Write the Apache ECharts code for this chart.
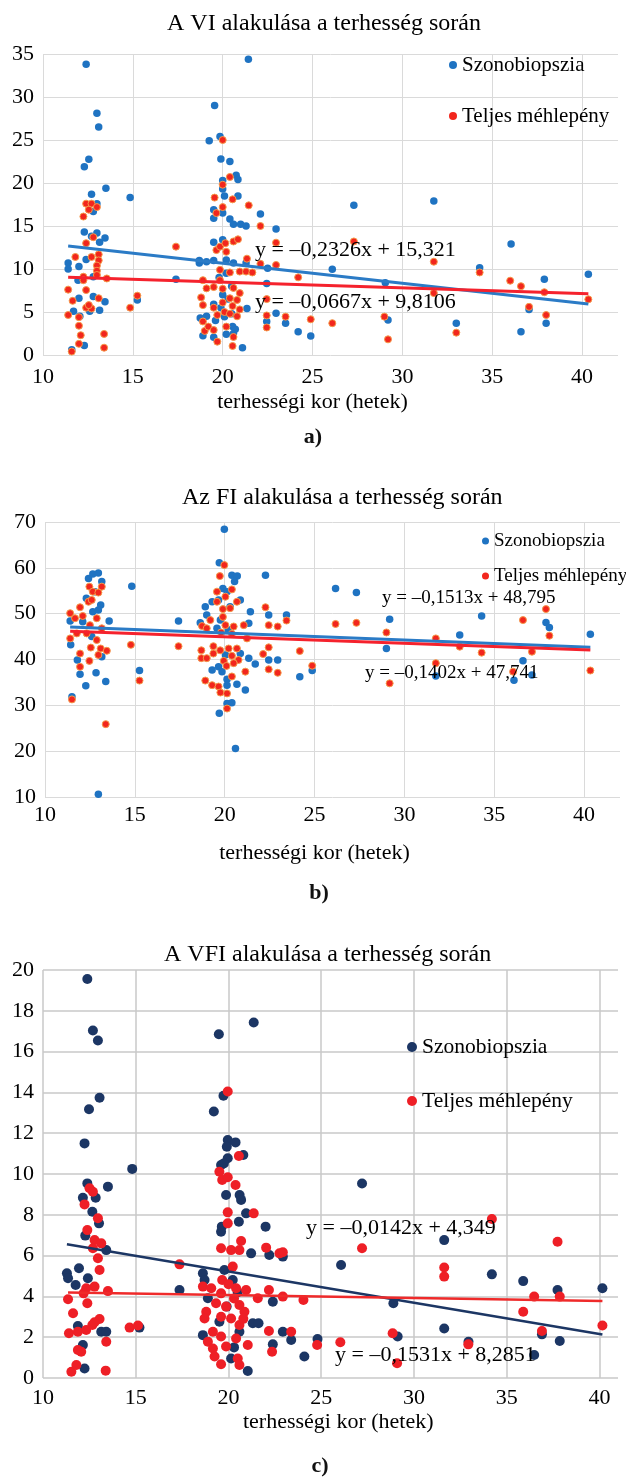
<!DOCTYPE html>
<html>
<head>
<meta charset="utf-8">
<script src="https://cdn.jsdelivr.net/npm/echarts@6/dist/echarts.min.js"></script>
<style>html,body{margin:0;padding:0;background:#fff}#c{width:626px;height:1477px}</style>
</head>
<body>
<div id="c"></div>
<script>
// ---------- DATA ----------
const seriesNames = ['Szonobiopszia', 'Teljes méhlepény'];
const titles = ['A VI alakulása a terhesség során', 'Az FI alakulása a terhesség során', 'A VFI alakulása a terhesség során'];
const xName = 'terhességi kor (hetek)';
const panelLabels = ['a)', 'b)', 'c)'];

// panel a) VI
const aBlue = [[11.4,10.7],[11.4,10.0],[11.6,0.6],[11.7,5.1],[11.95,8.7],[12.0,10.3],[12.0,6.6],[12.05,4.5],[12.3,21.9],[12.3,14.3],[12.3,1.1],[12.4,11.1],[12.4,33.8],[12.55,22.75],[12.6,5.1],[12.7,18.7],[12.7,13.8],[12.8,16.7],[12.8,9.1],[12.8,6.8],[13.0,28.1],[13.0,17.6],[13.0,14.2],[13.1,26.5],[13.15,13.1],[13.15,5.2],[13.45,13.6],[13.45,6.2],[13.5,19.4],
  [14.85,18.3],[15.25,6.4],[17.4,8.8],
  [18.7,11.0],[18.7,10.7],[18.75,4.3],[18.9,2.25],[19.1,10.85],[19.1,4.5],[19.25,24.9],[19.5,16.9],[19.5,15.9],[19.5,13.1],[19.5,11.0],[19.5,5.9],[19.5,2.05],[19.55,29.0],[19.6,4.0],[19.85,25.4],[19.9,22.8],[20.0,20.3],[20.0,19.3],[20.0,16.5],[20.0,13.4],[20.1,18.5],[20.1,4.45],[20.2,11.05],[20.2,9.5],[20.2,2.4],[20.4,22.5],[20.4,15.8],[20.5,8.0],[20.55,3.3],[20.6,15.2],[20.6,10.7],[20.6,2.5],[20.75,20.9],[20.85,20.4],[20.85,18.5],[21.0,15.2],[21.1,0.85],[21.3,15.0],[21.3,10.7],[21.35,5.4],[21.43,34.4],[20.3,6.5],[20.0,7.0],[19.8,9.0],[20.5,4.8],[20.7,3.0],[19.9,5.5],
  [22.1,16.4],[22.45,8.3],[22.45,3.9],[22.5,10.1],[22.97,14.65],[22.97,4.85],[23.5,3.7],[24.2,2.7],[24.9,2.2],[26.1,9.96],[27.3,17.4],[29.05,8.4],[29.2,4.07],[31.75,17.9],[33.0,3.7],[34.3,10.15],[36.05,12.9],[36.6,2.7],[37.05,5.3],[37.9,8.8],[38.0,3.7],[40.35,9.4]];
const aRed = [[11.6,0.4],[11.4,7.6],[11.4,4.65],[11.65,6.3],[11.8,11.4],[12.0,4.4],[12.0,3.4],[12.1,2.3],[12.0,1.3],[12.25,16.1],[12.4,17.6],[12.7,17.6],[12.55,16.9],[13.0,17.2],[12.4,13.0],[12.8,13.7],[13.1,11.7],[13.1,11.0],[13.0,10.4],[13.0,9.8],[13.0,9.3],[12.7,11.4],[12.25,9.1],[12.25,8.7],[13.55,8.9],[12.4,7.55],[13.1,6.6],[12.4,5.5],[12.7,5.4],[12.55,5.8],[13.4,2.45],[13.4,0.85],
  [14.85,5.5],[15.25,6.9],[17.4,12.6],
  [18.9,8.7],[18.8,6.7],[18.9,5.8],[18.9,3.9],[19.0,2.8],[19.2,3.3],[19.5,2.9],[19.7,1.55],[19.55,18.3],[20.0,25.0],[20.0,19.8],[20.4,20.7],[20.55,18.1],[21.45,17.4],[20.0,17.2],[19.65,16.5],[22.1,15.0],[19.65,12.2],[19.85,12.6],[20.15,13.0],[20.6,13.2],[20.85,13.45],[20.2,12.0],[21.35,11.2],[20.95,9.7],[21.3,9.7],[21.65,9.6],[20.4,9.6],[19.85,9.9],[19.85,8.7],[19.5,7.9],[19.1,7.75],[20.0,7.7],[20.6,7.8],[20.4,6.6],[20.8,6.4],[20.95,7.2],[19.5,5.5],[20.0,6.1],[20.55,5.7],[20.95,5.3],[19.7,4.65],[20.1,5.0],[20.4,4.8],[20.8,4.5],[20.2,3.3],[20.6,2.1],[20.55,1.05],
  [22.1,10.6],[22.97,13.06],[22.45,6.5],[22.45,4.6],[22.45,3.2],[22.97,10.47],[24.2,9.03],[23.5,4.46],[24.9,4.15],[26.1,3.7],[27.3,13.2],[29.0,4.46],[29.2,1.82],[31.75,10.85],[31.75,7.2],[33.0,2.6],[34.3,9.6],[36.0,8.64],[36.6,8.0],[37.05,5.6],[37.9,7.3],[38.0,4.65],[40.35,6.47]];
const aTrendBlue = [-0.2326, 15.321];
const aTrendRed = [-0.0667, 9.8106];
const aEq = ['y = –0,2326x + 15,321', 'y = –0,0667x + 9,8106'];

// panel b) FI
const bBlue = [[19.98,68.4],[19.7,61.1],[20.4,58.4],[20.7,58.2],[20.55,57.0],[22.27,58.4],[12.42,57.7],[12.66,58.65],[12.97,58.9],[13.16,57.0],[12.78,54.8],[12.3,53.35],[13.1,51.9],[12.66,50.4],[12.97,50.8],[11.4,48.4],[13.57,48.4],[12.1,48.25],[14.83,56.0],[17.43,48.4],[11.43,43.2],[12.6,45.0],[13.16,40.6],[11.8,39.9],[11.95,36.8],[12.84,37.1],[12.27,34.3],[13.38,35.2],[11.5,31.9],[12.97,10.6],[15.26,37.6],
  [18.92,51.5],[19.0,49.7],[18.64,48.0],[19.3,52.6],[19.66,53.0],[19.9,55.5],[20.13,54.8],[20.3,51.5],[19.76,48.6],[20.87,53.0],[21.43,50.4],[21.34,47.9],[19.57,46.8],[20.2,46.5],[20.04,41.0],[20.87,41.3],[21.34,40.3],[21.7,39.0],[19.3,37.7],[19.66,38.4],[19.85,37.35],[20.13,35.7],[20.13,34.4],[20.68,34.6],[21.15,33.35],[20.13,30.4],[20.4,30.55],[19.7,28.25],[20.6,20.6],[22.45,49.7],[22.45,39.9],[22.95,39.9],
  [23.44,49.7],[24.18,36.25],[24.87,37.6],[26.17,55.5],[27.33,54.6],[29.18,48.8],[29.0,42.4],[31.75,36.4],[33.08,45.35],[34.3,49.5],[36.6,39.75],[36.1,35.5],[37.1,36.6],[37.88,48.1],[38.07,47.0],[40.35,45.5]];
const bRed = [[19.98,60.6],[19.73,58.2],[12.47,55.9],[13.16,55.9],[12.66,54.8],[12.97,54.6],[12.42,52.6],[12.6,53.0],[11.95,51.4],[11.67,49.0],[11.4,50.1],[12.1,49.5],[12.88,49.0],[12.5,47.5],[13.16,46.8],[11.77,45.7],[12.32,45.7],[11.4,44.6],[12.88,44.25],[12.55,42.6],[13.1,42.4],[13.44,41.9],[11.95,41.3],[12.97,41.0],[12.47,39.7],[11.95,38.4],[11.5,31.3],[13.38,25.9],[14.78,43.2],[15.26,35.4],[17.43,42.9],
  [19.57,54.8],[20.04,53.7],[20.4,55.3],[19.57,52.6],[19.9,51.0],[20.3,51.2],[20.68,52.6],[19.9,49.3],[19.2,48.6],[18.74,47.3],[20.04,47.5],[20.5,47.2],[21.06,47.5],[19.0,46.8],[19.8,45.9],[20.4,45.6],[21.24,44.6],[22.27,51.4],[22.45,47.5],[22.95,47.2],[22.45,42.65],[22.14,41.2],[22.45,37.85],[18.7,42.0],[18.7,40.3],[19.0,40.3],[19.37,42.9],[19.75,42.0],[19.37,41.3],[20.22,42.4],[20.68,42.4],[20.4,40.8],[19.95,39.7],[20.77,39.9],[20.5,39.2],[21.15,37.35],[20.1,38.6],[18.92,35.4],[19.3,34.4],[19.66,34.1],[19.76,32.8],[20.13,32.6],[20.4,36.3],[20.13,29.3],
  [23.44,48.5],[22.95,37.1],[24.18,41.85],[24.87,38.65],[26.17,47.75],[27.33,48.0],[29.0,45.9],[29.18,34.8],[31.75,44.6],[31.75,39.2],[33.08,42.8],[34.3,41.5],[36.6,48.6],[36.05,37.35],[37.1,41.7],[37.88,51.0],[38.07,45.2],[40.35,37.6]];
const bTrendBlue = [-0.1513, 48.795];
const bTrendRed = [-0.1402, 47.741];
const bEq = ['y = –0,1513x + 48,795', 'y = –0,1402x + 47,741'];

// panel c) VFI
const cBlue = [[12.39,19.56],[12.69,17.03],[12.96,16.54],[13.05,13.74],[12.48,13.17],[12.24,11.5],[14.81,10.25],[19.48,16.85],[21.36,17.43],[19.73,13.84],[19.21,13.06],[19.96,11.67],[20.38,11.55],[20.8,10.93],[19.96,10.77],[19.6,10.44],
  [12.39,9.54],[13.5,9.38],[12.84,8.84],[12.15,8.84],[12.66,8.15],[13.02,7.58],[12.28,6.98],[13.41,6.27],[11.29,5.13],[11.94,5.38],[11.35,4.89],[12.42,4.89],[11.76,4.56],[11.88,2.55],[12.15,1.62],[12.24,0.47],[13.14,2.27],[13.41,2.27],[15.2,2.47],[17.36,4.31],
  [19.91,11.34],[19.75,10.52],[19.87,8.97],[20.6,8.97],[20.68,8.73],[20.95,8.07],[20.56,7.66],[19.64,7.42],[19.6,7.17],[22.0,7.42],[21.22,6.11],[22.2,6.03],[18.62,5.13],[19.78,5.29],[20.23,4.8],[18.71,4.8],[18.89,3.91],[19.51,2.76],[18.62,2.1],[21.31,2.68],[21.62,2.68],[20.59,2.27],[22.39,3.74],[22.39,1.65],[20.14,0.96],[21.04,0.34],[20.3,1.5],[19.9,3.5],[20.5,4.2],
  [22.93,5.95],[22.93,2.27],[23.38,1.86],[24.09,1.05],[24.8,1.91],[26.07,5.54],[27.2,9.53],[28.89,3.66],[29.12,2.03],[31.63,6.76],[31.63,2.43],[32.94,1.78],[34.2,5.08],[35.89,4.75],[36.48,1.13],[36.9,2.14],[37.74,4.31],[37.86,1.81],[40.16,4.4]];
const cRed = [[19.96,14.04],[20.56,10.88],[19.51,10.11],[19.66,9.71],[19.96,9.84],[20.38,9.46],[21.36,8.07],[19.96,8.12],[19.96,7.58],
  [12.51,9.3],[12.69,9.13],[12.24,8.51],[12.96,7.83],[12.39,7.25],[12.78,6.76],[13.14,6.6],[12.69,6.36],[12.96,5.87],[13.05,5.29],[12.78,4.48],[12.33,4.4],[12.19,4.15],[13.5,4.26],[11.35,3.86],[11.62,3.17],[12.39,3.66],[11.4,2.19],[11.88,2.27],[12.33,2.35],[12.66,2.6],[13.05,2.89],[12.78,2.73],[13.41,1.78],[11.88,1.37],[12.06,1.29],[11.53,0.31],[11.8,0.64],[13.38,0.36],[14.67,2.47],[15.12,2.57],[17.36,5.57],
  [19.6,6.36],[20.14,6.27],[20.68,6.72],[20.59,6.27],[20.23,5.46],[19.66,4.8],[18.62,4.48],[19.07,4.4],[19.6,4.15],[20.41,4.4],[20.95,4.31],[21.58,3.91],[22.18,4.31],[18.8,3.25],[19.33,3.66],[19.87,3.5],[20.59,3.58],[20.86,3.25],[18.71,2.92],[19.6,3.0],[20.14,2.92],[20.59,2.6],[19.16,2.27],[18.89,1.78],[19.6,2.03],[20.41,1.94],[21.04,1.62],[19.16,1.45],[19.87,1.54],[19.25,1.05],[19.6,0.67],[20.5,0.96],[20.59,0.64],[22.18,2.3],[22.35,1.29],[22.75,6.11],[22.03,6.39],[20.3,3.9],[20.0,4.6],[20.8,2.9],
  [22.93,6.16],[22.93,3.99],[23.38,2.27],[24.04,3.82],[24.78,1.62],[26.03,1.75],[27.2,6.36],[28.85,2.19],[29.09,0.72],[31.63,5.42],[31.63,4.97],[32.93,1.65],[34.2,7.79],[35.89,3.25],[36.48,3.99],[36.9,2.3],[37.74,6.68],[37.86,3.99],[40.16,2.57]];
const cTrendBlue = [-0.1531, 8.2851];
const cTrendRed = [-0.0142, 4.349];
const cEq = ['y = –0,0142x + 4,349', 'y = –0,1531x + 8,2851'];

// axis ranges
const xRange = [[10, 42], [10, 42], [10, 41]];
const yRange = [[0, 35, 5], [10, 70, 10], [0, 20, 2]];

// ---------- BUILD ----------
const FONT = 'Liberation Serif';
function trend(data, coef) {
  const xs = data.map(d => d[0]);
  const lo = Math.min.apply(null, xs), hi = Math.max.apply(null, xs);
  return [[lo, coef[0] * lo + coef[1]], [hi, coef[0] * hi + coef[1]]];
}

const panels = [
  { grid: { left: 43, top: 54, width: 575, height: 301 }, blue: aBlue, red: aRed, tb: aTrendBlue, tr: aTrendRed,
    cBlue: '#1f73c2', cRed: '#f2261d', redBorder: '#f59a4a', lBlue: '#2b7bc6', lRed: '#f5222d', size: 7.5, lw: 3,
    grid2col: '#dadada', gw: 1, labMargin: 11, nameGap: 36, namePad: 0,
    legend: { left: 449, top: 54, iw: 8, fs: 21, lh: 22, gap: 29 } },
  { grid: { left: 45, top: 522, width: 575, height: 275 }, blue: bBlue, red: bRed, tb: bTrendBlue, tr: bTrendRed,
    cBlue: '#1f73c2', cRed: '#f2261d', redBorder: '#f59a4a', lBlue: '#2b7bc6', lRed: '#f5222d', size: 7.5, lw: 3,
    grid2col: '#dadada', gw: 1, labMargin: 7, nameGap: 45, namePad: 0,
    legend: { left: 482, top: 531, iw: 7, fs: 19, lh: 20, gap: 15 } },
  { grid: { left: 43, top: 970, width: 575, height: 408 }, blue: cBlue, red: cRed, tb: cTrendBlue, tr: cTrendRed,
    cBlue: '#1c3664', cRed: '#ee1f26', redBorder: null, lBlue: '#1c3664', lRed: '#ef2a2a', size: 10, lw: 2.5,
    grid2col: '#c9c9c9', gw: 1.5, labMargin: 9, nameGap: 33, namePad: 34,
    legend: { left: 407, top: 1036, iw: 10, fs: 21.5, lh: 22, gap: 32 } }
];

const grids = [], xAxes = [], yAxes = [], series = [], legends = [], titleOpts = [];
const titleLeft = [167, 182, 164], titleTop = [12, 486, 943];

panels.forEach((p, i) => {
  const g = p.grid;
  const span = xRange[i][1] - xRange[i][0];
  const vWidth = g.width * 30 / span;
  grids.push({ left: g.left, top: g.top, width: g.width, height: g.height });
  grids.push({ left: g.left, top: g.top, width: vWidth, height: g.height });
  const gm = i * 2, gv = i * 2 + 1;
  xAxes.push({ gridIndex: gm, type: 'value', min: xRange[i][0], max: xRange[i][1],
    axisLine: { show: false }, axisTick: { show: false }, axisLabel: { show: false }, splitLine: { show: false } });
  xAxes.push({ gridIndex: gv, type: 'value', min: 10, max: 40, interval: 5,
    axisLine: { show: false }, axisTick: { show: false },
    axisLabel: { margin: p.labMargin, fontFamily: FONT, fontSize: 22, color: '#000' },
    splitLine: { show: true, lineStyle: { color: p.grid2col, width: p.gw } },
    name: xName, nameLocation: 'middle', nameGap: p.nameGap,
    nameTextStyle: { fontFamily: FONT, fontSize: 22, color: '#000', padding: [0, 0, 0, p.namePad] } });
  yAxes.push({ gridIndex: gm, type: 'value', min: yRange[i][0], max: yRange[i][1], interval: yRange[i][2],
    axisLine: { show: false }, axisTick: { show: false },
    axisLabel: { margin: 9, fontFamily: FONT, fontSize: 22, color: '#000' },
    splitLine: { show: true, lineStyle: { color: p.grid2col, width: p.gw } } });
  yAxes.push({ gridIndex: gv, type: 'value', show: false, min: 0, max: 1, splitLine: { show: false } });

  const xi = gm, yi = gm;
  series.push({ name: seriesNames[0], type: 'scatter', xAxisIndex: xi, yAxisIndex: yi, data: p.blue,
    symbolSize: p.size, itemStyle: { color: p.cBlue, opacity: 1 }, z: 2 });
  series.push({ name: seriesNames[1], type: 'scatter', xAxisIndex: xi, yAxisIndex: yi, data: p.red,
    symbolSize: p.redBorder ? p.size - 0.5 : p.size,
    itemStyle: p.redBorder ? { color: p.cRed, borderColor: p.redBorder, borderWidth: 1, opacity: 1 } : { color: p.cRed, opacity: 1 }, z: 3 });
  series.push({ name: 'trend-blue-' + i, type: 'line', xAxisIndex: xi, yAxisIndex: yi, data: trend(p.blue, p.tb),
    showSymbol: false, symbol: 'none', lineStyle: { color: p.lBlue, width: p.lw }, z: 5, silent: true });
  series.push({ name: 'trend-red-' + i, type: 'line', xAxisIndex: xi, yAxisIndex: yi, data: trend(p.red, p.tr),
    showSymbol: false, symbol: 'none', lineStyle: { color: p.lRed, width: p.lw }, z: 5, silent: true });

  const L = p.legend;
  legends.push({ orient: 'vertical', left: L.left, top: L.top, padding: 0, itemWidth: L.iw, itemHeight: L.iw, itemGap: L.gap,
    selectedMode: false, icon: 'circle',
    textStyle: { fontFamily: FONT, fontSize: L.fs, lineHeight: L.lh, color: '#000' },
    data: [{ name: seriesNames[0], itemStyle: { color: p.cBlue, borderWidth: 0 } },
           { name: seriesNames[1], itemStyle: { color: p.cRed, borderWidth: 0 } }] });

  titleOpts.push({ text: titles[i], left: titleLeft[i], top: titleTop[i], padding: 0,
    textStyle: { fontFamily: FONT, fontSize: 24, fontWeight: 'normal', color: '#000' } });
});

function txt(s, x, y, fs) {
  return { type: 'text', x: x, y: y, z: 100,
    style: { text: s, fontFamily: FONT, fontSize: fs, fill: '#000', textVerticalAlign: 'middle' } };
}
function lab(s, x, y) {
  return { type: 'text', x: x, y: y, z: 100,
    style: { text: s, fontFamily: FONT, fontSize: 22, fontWeight: 'bold', fill: '#111', textAlign: 'center', textVerticalAlign: 'middle' } };
}
const graphics = [
  txt(aEq[0], 255, 250, 22), txt(aEq[1], 255, 302, 22),
  txt(bEq[0], 382, 598, 19), txt(bEq[1], 365, 673, 19),
  txt(cEq[0], 306, 1228, 22), txt(cEq[1], 335, 1355, 22),
  lab(panelLabels[0], 313, 437), lab(panelLabels[1], 319, 893), lab(panelLabels[2], 320, 1466)
];

const chart = echarts.init(document.getElementById('c'), null, { renderer: 'canvas' });
chart.setOption({
  animation: false,
  backgroundColor: '#fff',
  title: titleOpts,
  legend: legends,
  grid: grids,
  xAxis: xAxes,
  yAxis: yAxes,
  series: series,
  graphic: graphics
});
</script>
</body>
</html>
